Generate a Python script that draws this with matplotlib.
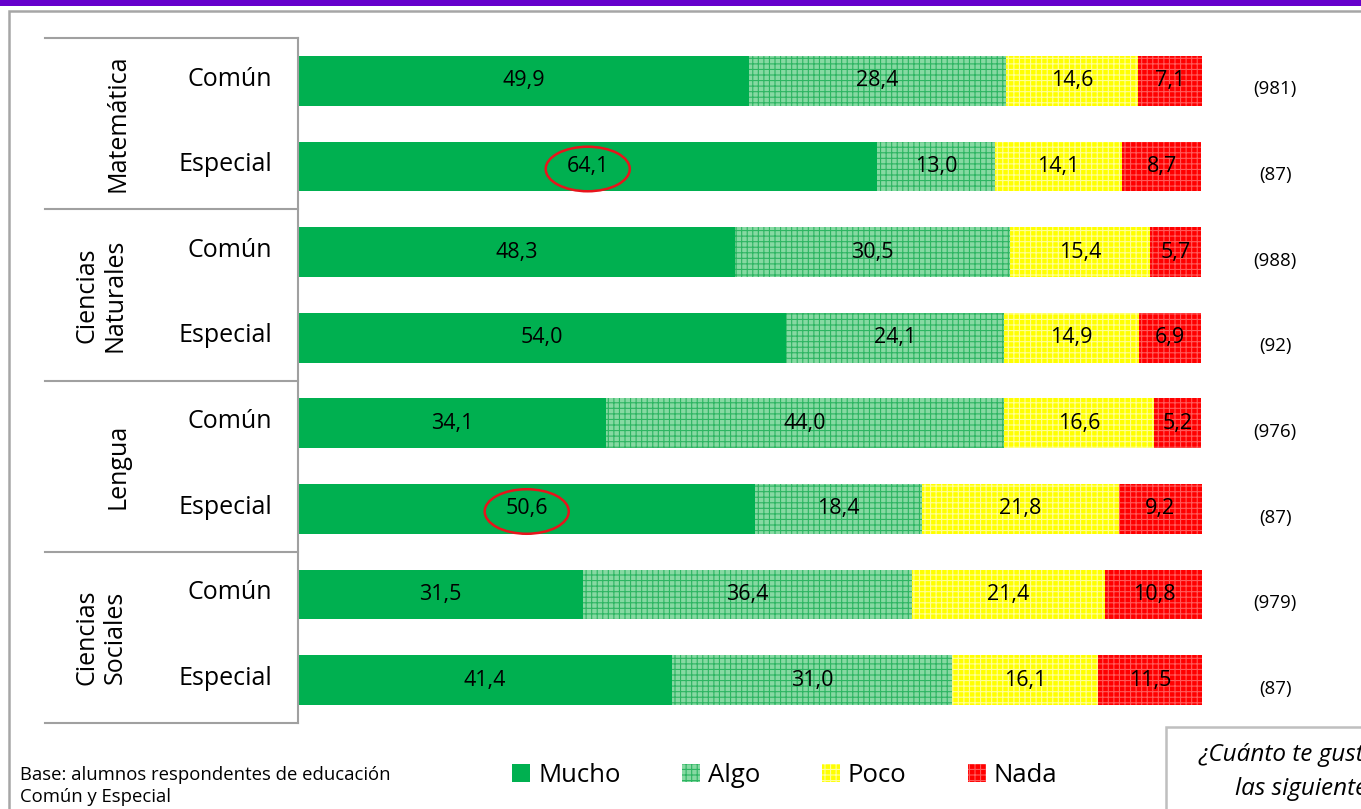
import matplotlib.pyplot as plt
import matplotlib.patches as mpatches
import numpy as np

plt.rcParams['font.family'] = ['Open Sans', 'DejaVu Sans']
plt.rcParams['hatch.linewidth'] = 0.8

# data
groups = ["Matemática", "Ciencias\nNaturales", "Lengua", "Ciencias\nSociales"]
rows = ["Común", "Especial"] * 4
mucho = [49.9, 64.1, 48.3, 54.0, 34.1, 50.6, 31.5, 41.4]
algo = [28.4, 13.0, 30.5, 24.1, 44.0, 18.4, 36.4, 31.0]
poco = [14.6, 14.1, 15.4, 14.9, 16.6, 21.8, 21.4, 16.1]
nada = [7.1, 8.7, 5.7, 6.9, 5.2, 9.2, 10.8, 11.5]
bases = ["(981)", "(87)", "(988)", "(92)", "(976)", "(87)", "(979)", "(87)"]
circled = [(1, 0), (5, 0)]  # (row, series) with red ring

W, H = 1361, 809
fig = plt.figure(figsize=(W / 100, H / 100), dpi=100)

def fx(px):
    return px / W

def fy(py):
    return 1 - py / H

# purple band and outer frame
fig.patches.append(mpatches.Rectangle((0, fy(6)), 1, fy(0) - fy(6), transform=fig.transFigure,
                                      color='#6600CC', lw=0))
fig.patches.append(mpatches.Rectangle((fx(9), fy(830)), 1.2, fy(11) - fy(830), transform=fig.transFigure,
                                      fill=False, edgecolor='#A6A6A6', lw=1.8))

ax = fig.add_axes([fx(298), fy(723), fx(1202) - fx(298), fy(38) - fy(723)])
y = np.arange(len(rows))
series = [
    ("Mucho", mucho, dict(color='#00B050')),
    ("Algo", algo, dict(facecolor='#86D9A2', edgecolor='#2DB562', hatch='+++', lw=0)),
    ("Poco", poco, dict(facecolor='#FFFF00', edgecolor='#FFFF99', hatch='+++', lw=0)),
    ("Nada", nada, dict(facecolor='#FF0000', edgecolor='#FF5A5A', hatch='+++', lw=0)),
]
left = np.zeros(len(rows))
handles = []
for name, vals, style in series:
    vals = np.array(vals)
    b = ax.barh(y, vals, left=left, height=0.58, label=name, **style)
    handles.append(b)
    for i, v in enumerate(vals):
        ax.text(left[i] + v / 2, y[i], f"{v:.1f}".replace('.', ','), ha='center', va='center',
                fontsize=15.5, color='black')
    left = left + vals

for r, s in circled:
    vals = series[s][1]
    start = sum(series[k][1][r] for k in range(s))
    ax.add_patch(mpatches.Ellipse((start + vals[r] / 2, r + 0.03), 9.3, 0.52, fill=False,
                                  edgecolor='#E8141B', lw=1.8, zorder=5))

ax.set_xlim(0, 100)
ax.set_ylim(7.5, -0.5)
ax.set_xticks([])
ax.set_yticks([])
for sp in ['top', 'right', 'bottom']:
    ax.spines[sp].set_visible(False)
ax.spines['left'].set_color('#A0A0A0')
ax.spines['left'].set_linewidth(1.5)

trans = ax.get_yaxis_transform()
# group separators
for b in [-0.5, 1.5, 3.5, 5.5, 7.5]:
    ax.plot([-0.28, 0], [b, b], transform=trans, color='#A0A0A0', lw=1.5, clip_on=False)

for i, lab in enumerate(rows):
    ax.text(-0.029, y[i] - 0.02, lab, transform=trans, ha='right', va='center', fontsize=18)
    ax.text(1.081, y[i] + 0.1, bases[i], transform=trans, ha='center', va='center', fontsize=13.5)

group_x = [-0.199, -0.218, -0.199, -0.218]
for g, lab in enumerate(groups):
    ax.text(group_x[g], 2 * g + 0.5, lab, transform=trans, rotation=90, ha='center', va='center',
            fontsize=18, multialignment='center', linespacing=1.15)

# legend
fig.legend(handles=handles, labels=[s[0] for s in series], loc='center',
           bbox_to_anchor=(fx(785), fy(775)), ncol=4, frameon=False, fontsize=18.5,
           handlelength=0.7, handleheight=0.7, handletextpad=0.3, columnspacing=2.4)

# base note
fig.text(fx(20), fy(775), "Base: alumnos respondentes de educación", ha='left', va='center', fontsize=13.3)
fig.text(fx(20), fy(797), "Común y Especial", ha='left', va='center', fontsize=13.3)

# question box (cut by the picture edge, as in the source)
fig.patches.append(mpatches.Rectangle((fx(1166), fy(830)), 0.3, fy(727) - fy(830), transform=fig.transFigure,
                                      fill=False, edgecolor='#BFBFBF', lw=1.8))
fig.text(fx(1198), fy(755), "¿Cuánto te gustan", ha='left', va='center', fontsize=17.5, style='italic')
fig.text(fx(1235), fy(789), "las siguientes materias?", ha='left', va='center', fontsize=17.5, style='italic')

fig.savefig("out.png", dpi=100)
